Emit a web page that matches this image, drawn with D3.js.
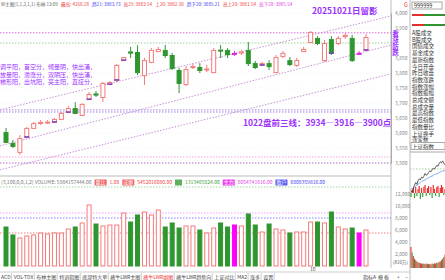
<!DOCTYPE html>
<html lang="zh">
<head>
<meta charset="utf-8">
<title>上证指数 日线</title>
<script src="https://d3js.org/d3.v7.min.js"></script>
<style>
  body { margin: 0; background: #fff; }
  svg text { font-family: "Noto Sans CJK SC", "Noto Sans", sans-serif; }
</style>
</head>
<body>
<script>
const w = 445, h = 280;

// daily candles (price)
const opens  = [3603,3567,3537,3587,3617,3633,3635,3637,3647,3670,3683,3660,3713,3732,3720,3763,3777,3843,3872,3870,3793,3837,3873,3877,3860,3810,3763,3820,3820,3812,3803,3878,3877,3867,3868,3877,3833,3827,3833,3803,3857,3843,3827,3873,3903,3917,3843,3913,3900,3923,3917,3867,3877];
const highs  = [3617,3577,3593,3620,3637,3643,3643,3650,3670,3690,3703,3700,3737,3740,3770,3773,3830,3850,3887,3893,3850,3883,3887,3893,3867,3817,3823,3830,3833,3827,3883,3893,3883,3873,3877,3903,3840,3837,3843,3860,3873,3853,3850,3887,3940,3923,3910,3923,3923,3933,3927,3873,3930];
const lows   = [3567,3550,3527,3583,3613,3627,3630,3633,3643,3667,3663,3657,3710,3720,3703,3760,3770,3840,3850,3793,3760,3833,3870,3850,3810,3733,3757,3813,3800,3803,3800,3850,3850,3857,3860,3823,3813,3823,3810,3800,3850,3823,3820,3870,3900,3893,3837,3860,3893,3913,3837,3860,3873];
const closes = [3570,3557,3583,3617,3633,3637,3638,3647,3667,3683,3667,3697,3730,3728,3767,3770,3827,3853,3868,3803,3843,3877,3880,3860,3817,3767,3813,3823,3810,3815,3877,3875,3863,3867,3872,3833,3820,3833,3823,3853,3867,3830,3843,3880,3937,3900,3900,3867,3917,3927,3843,3867,3920];
// volume, unit 10万
const volumes = [6500,5170,4670,5000,5170,5500,5330,5500,5500,6170,6500,7170,10170,7000,6670,6830,6830,8830,7330,8500,9000,8500,9330,6500,7170,6330,6670,6670,6000,5500,6330,7170,6500,6830,6670,8670,6830,5670,7000,6170,6000,5500,5670,5670,7330,7330,7170,9000,6500,6170,6330,5500,6000];
const purpleMarks = [3,7,9,12,15,16,17,37,47,52];
const magentaDays = [33,51];

const priceTicks = [4000,3950,3900,3850,3800,3750,3700,3650,3600,3550,3500];
const priceLabels = [4000,3950,3850,3800,3750,3700,3650,3600,3550,3500];
const volTicks = [12000,10000,8000,6000,4000,2000];

// horizontal levels in the price panel
const priceLevels = [
  {v: 3934, c: "#e066e0"}, {v: 3900, c: "#9fd49f"},
  {v: 3677, c: "#a080e0"}, {v: 3670, c: "#a080e0"},
  {v: 3520, c: "#f0a0e0"}, {v: 3500, c: "#b070c0"}
];
// channel lines: [index, price] end points
const channels = [
  [[-0.9, 3677], [55.6, 3990]],
  [[-0.9, 3557], [55.6, 3893]],
  [[-0.9, 3477], [55.6, 3797]]
];
const volLevels = [
  {v: 13170, c: "#9fd49f"}, {v: 8830, c: "#f0a0f0"},
  {v: 8000, c: "#8080ff"}, {v: 5500, c: "#f08080"}
];

// intraday mini chart (side panel)
const miniPrice = [3906,3904,3909,3912,3915,3913,3917,3919,3918,3921,3920,3922,3925,3923,3924,3926,3928,3927,3929,3931,3930,3932,3934,3933,3936,3938,3937,3939,3936,3935];
const miniAvg   = [3908,3908,3909,3910,3911,3912,3913,3914,3915,3916,3917,3917,3918,3919,3920,3920,3921,3922,3922,3923,3924,3924,3925,3925,3926,3927,3927,3928,3928,3928];
const miniFlow  = [-4,3,5,-5,6,-3,4,7,-6,5,-4,6,8,-3,5,7,-2,6,-5,8,4,-3,6,7,-4,5,8,6,-2,4];
const miniVol   = [95,70,55,42,35,30,26,24,22,20,19,21,18,20,17,19,18,16,20,18,22,20,25,23,28,30,35,42,50,60];

const sideItems = ["A股成交","B股成交","国债成交","基金成交","最新指数","今日开盘","昨日收盘","指数涨跌","指数涨幅","指数振幅","总成交额","总成交量","最高指数","最低指数","指数量比","上证换手","涨家数","上证指数"];
const tabs = ["ACD","VOL-TDX","布林主图","特训指图","底部特大单","擒牛LWR主图","擒牛LWR副图","擒牛LWR趋势向","上证对比","MA2","涨多","设置"];
const leftNotes = ["调平阳，首空分，倾量阴，快出涌，","放量阳，滞涨分，双阴压，快出涌，","梯形阳，出坑阳，亮主阳，直接分，"];

const up = "#f47a7a", down = "#2f962f", purple = "#7a3fc0";

const svg = d3.select("body").append("svg")
  .attr("width", w).attr("height", h);

const x = d3.scaleLinear().domain([0, 52]).range([6, 366]);
const y = d3.scaleLinear().domain([3500, 4000]).range([163, 13]);
const yv = d3.scaleLinear().domain([0, 12000]).range([266, 194]);

const chartRight = 391;

// faint grid
svg.append("g").selectAll("line").data(priceTicks).join("line")
  .attr("x1", 0).attr("x2", chartRight)
  .attr("y1", d => y(d)).attr("y2", d => y(d))
  .attr("stroke", "#f2f2f2").attr("stroke-dasharray", "1,2");

// price axis on the right
const pAxis = d3.axisRight(y).tickValues(priceLabels).tickSize(0).tickPadding(4);
svg.append("g").attr("transform", `translate(${chartRight},0)`).call(pAxis)
  .call(g => g.select(".domain").attr("stroke", "#999"))
  .call(g => g.selectAll("text").attr("font-size", 5).attr("fill", "#888"));

// horizontal levels
svg.append("g").selectAll("line").data(priceLevels).join("line")
  .attr("x1", 0).attr("x2", chartRight)
  .attr("y1", d => y(d.v)).attr("y2", d => y(d.v))
  .attr("stroke", d => d.c).attr("stroke-dasharray", "1.5,1.5");

// channel lines
svg.append("g").selectAll("line").data(channels).join("line")
  .attr("x1", d => x(d[0][0])).attr("y1", d => y(d[0][1]))
  .attr("x2", d => x(d[1][0])).attr("y2", d => y(d[1][1]))
  .attr("stroke", "#c890d8").attr("stroke-dasharray", "1.5,1.5");

// candles
const idx = d3.range(opens.length);
const bw = 5;
const cg = svg.append("g");
idx.forEach(i => {
  const isUp = closes[i] >= opens[i];
  const col = magentaDays.includes(i) ? "#e020e0" : (isUp ? up : down);
  const top = y(Math.max(opens[i], closes[i]));
  const bot = y(Math.min(opens[i], closes[i]));
  cg.append("line").attr("x1", x(i)).attr("x2", x(i))
    .attr("y1", y(highs[i])).attr("y2", top).attr("stroke", col);
  cg.append("line").attr("x1", x(i)).attr("x2", x(i))
    .attr("y1", bot).attr("y2", y(lows[i])).attr("stroke", col);
  cg.append("rect")
    .attr("x", x(i) - bw / 2 + 0.5).attr("y", top + 0.5)
    .attr("width", bw - 1).attr("height", Math.max(bot - top, 1))
    .attr("fill", isUp ? "#fff" : col).attr("stroke", col);
  if (purpleMarks.includes(i)) {
    cg.append("line").attr("x1", x(i) - bw / 2).attr("x2", x(i) + bw / 2)
      .attr("y1", bot).attr("y2", bot).attr("stroke", purple).attr("stroke-width", 1.5);
  }
});

// header line
const header = [
  {t: "W主图(1,1,2,1,1) 布林 13:09", c: "#666"},
  {t: "最高: 4268.28", c: "#f04040"},
  {t: "趋21: 3983.73", c: "#4040f0"},
  {t: "高25: 3983.54", c: "#f04040"},
  {t: "上20: 3982.30", c: "#f04040"},
  {t: "趋下20: 3885.21", c: "#4040f0"},
  {t: "高上20: 3981.54", c: "#f04040"},
  {t: "高下20: 3985.54", c: "#e040e0"}
];
let hx = 1;
header.forEach(d => {
  const t = svg.append("text").attr("x", hx).attr("y", 5.5).attr("font-size", 4.6)
    .attr("fill", d.c).text(d.t);
  hx += t.node().getComputedTextLength() + 3;
});

svg.append("text").attr("x", 312).attr("y", 14).attr("font-size", 8.5)
  .attr("font-weight", "bold").attr("fill", "#9b30ff").text("20251021日留影");

// vertical note, one text in vertical writing mode
svg.append("text").attr("x", 395.5).attr("y", 30)
  .attr("font-size", 6.5).attr("font-weight", "bold").attr("fill", "#9b30ff")
  .style("writing-mode", "vertical-rl").style("text-orientation", "upright")
  .text("看涨防跌");

svg.append("text").attr("x", 243).attr("y", 126).attr("font-size", 8.5)
  .attr("font-weight", "bold").attr("fill", "#9b30ff")
  .text("1022盘前三线：3934—3916—3900点");

svg.append("g").selectAll("text").data(leftNotes).join("text")
  .attr("x", 0).attr("y", (d, k) => 69 + k * 7.5).attr("font-size", 6)
  .attr("fill", "#9b30ff").text(d => d);

// panel separators
svg.append("line").attr("x1", 0).attr("x2", chartRight).attr("y1", 176).attr("y2", 176)
  .attr("stroke", "#bbb");
svg.append("line").attr("x1", chartRight).attr("x2", chartRight).attr("y1", 0).attr("y2", 268)
  .attr("stroke", "#bbb");
svg.append("line").attr("x1", 410).attr("x2", 410).attr("y1", 0).attr("y2", 280)
  .attr("stroke", "#bbb");

// volume header
const vhead = [
  {t: "(3,100,0,0,1,2) VOLUME: 5984157444.00", c: "#777", bg: null},
  {t: "量比", c: "#fff", bg: "#f06060"}, {t: "1.08", c: "#f04040", bg: null},
  {t: "成额", c: "#fff", bg: "#f06060"}, {t: "5452016080.00", c: "#f04040", bg: null},
  {t: "", c: "#fff", bg: "#60b060"}, {t: "1313465824.00", c: "#40a040", bg: null},
  {t: "主力", c: "#fff", bg: "#f040f0"}, {t: "8054741616.00", c: "#e040e0", bg: null},
  {t: "散户", c: "#fff", bg: "#6060f0"}, {t: "6808359816.00", c: "#4040f0", bg: null}
];
const vh = svg.append("g");
let vx = 0;
vhead.forEach(d => {
  const bg = vh.append("rect");
  const t = vh.append("text").attr("x", vx + 1).attr("y", 184).attr("font-size", 5)
    .attr("fill", d.c).text(d.t);
  const tw = Math.max(t.node().getComputedTextLength(), 5);
  if (d.bg) {
    bg.attr("x", vx).attr("y", 179.5).attr("width", tw + 2)
      .attr("height", 6).attr("fill", d.bg);
  } else bg.remove();
  vx += tw + 4;
});

// volume levels
svg.append("g").selectAll("line").data(volLevels).join("line")
  .attr("x1", 0).attr("x2", chartRight)
  .attr("y1", d => yv(d.v)).attr("y2", d => yv(d.v))
  .attr("stroke", d => d.c).attr("stroke-dasharray", "1.5,1.5");

// volume bars
svg.append("g").selectAll("rect").data(idx).join("rect")
  .attr("x", i => x(i) - bw / 2 + 0.5).attr("y", i => yv(volumes[i]))
  .attr("width", bw - 1).attr("height", i => yv(0) - yv(volumes[i]))
  .attr("fill", i => magentaDays.includes(i) ? "#ff00ff" : (closes[i] >= opens[i] ? "#fff" : down))
  .attr("stroke", i => magentaDays.includes(i) ? "#ff00ff" : (closes[i] >= opens[i] ? up : down));

// volume axis
const vAxis = d3.axisRight(yv).tickValues(volTicks).tickSize(0).tickPadding(4);
svg.append("g").attr("transform", `translate(${chartRight},0)`).call(vAxis)
  .call(g => g.select(".domain").remove())
  .call(g => g.selectAll("text").attr("font-size", 5).attr("fill", "#888"));
svg.append("text").attr("x", 393).attr("y", 264).attr("font-size", 4.5).attr("fill", "#555").text("(X10万)");

// date tick
svg.append("text").attr("x", 310).attr("y", 271).attr("font-size", 5).attr("fill", "#555").text("10");

// bottom tabs
svg.append("line").attr("x1", 0).attr("x2", 410).attr("y1", 272).attr("y2", 272).attr("stroke", "#ccc");
let tx = 0;
tabs.forEach((d, k) => {
  const t = svg.append("text").attr("x", tx + 1).attr("y", 278.5).attr("font-size", 5)
    .attr("fill", k === 6 ? "#f03030" : "#444").text(d);
  tx += t.node().getComputedTextLength() + 3;
  svg.append("line").attr("x1", tx - 1).attr("x2", tx - 1).attr("y1", 273).attr("y2", 280).attr("stroke", "#ccc");
});
["指标A", "模 板", "+", "−"].forEach((d, k) => {
  svg.append("text").attr("x", [363, 378, 397, 405][k]).attr("y", 278.5)
    .attr("font-size", 5).attr("fill", "#444").text(d);
});

// side info panel
svg.append("text").attr("x", 404).attr("y", 7).attr("font-size", 5.5).attr("fill", "#f03030").text("G");
svg.append("rect").attr("x", 412).attr("y", 2).attr("width", 30).attr("height", 7)
  .attr("fill", "#fff").attr("stroke", "#aaa");
svg.append("text").attr("x", 414).attr("y", 8).attr("font-size", 5.5).attr("fill", "#333").text("999999");
[15, 25].forEach(yy => {
  svg.append("rect").attr("x", 412).attr("y", yy - 1).attr("width", 12).attr("height", 2).attr("fill", "#e03030");
  svg.append("rect").attr("x", 424).attr("y", yy - 1).attr("width", 21).attr("height", 2).attr("fill", "#2f962f");
});
svg.append("g").selectAll("text").data(sideItems).join("text")
  .attr("x", 412).attr("y", (d, k) => 35 + k * 6.7).attr("font-size", 5.5)
  .attr("fill", "#333").text(d => d);
svg.append("rect").attr("x", 411).attr("y", 142.5).attr("width", 34).attr("height", 7)
  .attr("fill", "none").attr("stroke", "#aaa");
svg.append("line").attr("x1", 410).attr("x2", 445).attr("y1", 152).attr("y2", 152).attr("stroke", "#aaa");

// intraday mini chart
const mx = d3.scaleLinear().domain([0, miniPrice.length - 1]).range([411, 445]);
const my = d3.scaleLinear().domain([3900, 3940]).range([196, 160]);
const mf = d3.scaleLinear().domain([-10, 10]).range([203, 183]);
const mvy = d3.scaleLinear().domain([0, 100]).range([268, 246]);
svg.append("line").attr("x1", 410).attr("x2", 445).attr("y1", my(3930)).attr("y2", my(3930))
  .attr("stroke", "#9fd49f").attr("stroke-dasharray", "1.5,1.5");
svg.append("g").selectAll("line").data(miniFlow).join("line")
  .attr("x1", (d, k) => mx(k)).attr("x2", (d, k) => mx(k))
  .attr("y1", mf(0)).attr("y2", d => mf(d))
  .attr("stroke", d => d >= 0 ? "#f03030" : "#3aa03a").attr("stroke-width", 1.2);
svg.append("path").datum(miniAvg)
  .attr("d", d3.line().x((d, k) => mx(k)).y(d => my(d)))
  .attr("fill", "none").attr("stroke", "#5a9be0").attr("stroke-width", 0.8);
svg.append("path").datum(miniPrice)
  .attr("d", d3.line().x((d, k) => mx(k)).y(d => my(d)))
  .attr("fill", "none").attr("stroke", "#333").attr("stroke-width", 0.8);
svg.append("g").selectAll("line").data(miniVol).join("line")
  .attr("x1", (d, k) => mx(k)).attr("x2", (d, k) => mx(k))
  .attr("y1", mvy(0)).attr("y2", d => mvy(d))
  .attr("stroke", (d, k) => k % 3 === 1 ? "#3aa03a" : "#e03a3a").attr("stroke-width", 1.1);
</script>
</body>
</html>
